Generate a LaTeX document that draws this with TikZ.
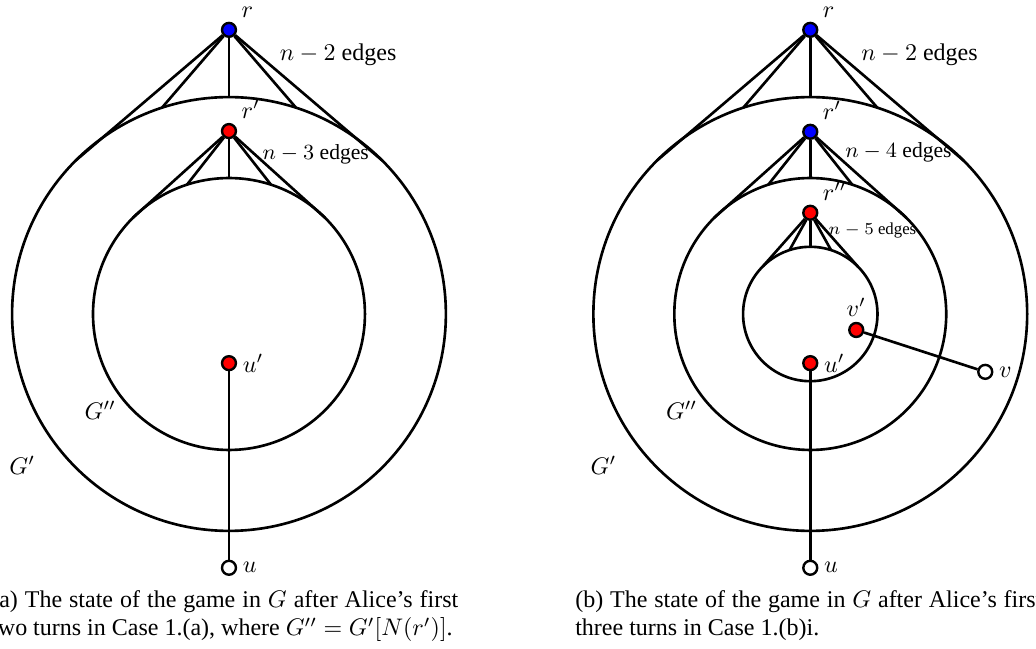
\documentclass[tikz,border=0pt]{standalone}
\usepackage{fontspec}
\setmainfont{Liberation Serif}
\usepackage{amsmath}

\tikzset{
  vtx/.style={circle, draw, line width=1pt, inner sep=0pt, minimum size=5.8pt},
  bluevtx/.style={vtx, fill=blue},
  redvtx/.style={vtx, fill=red},
  freevtx/.style={vtx, fill=white},
  region/.style={circle, draw, line width=1.1pt, inner sep=0pt, outer sep=0pt},
  caption/.style={text width=194.6pt, align=justify, inner sep=0pt, anchor=base west},
  every label/.style={label distance=-1.5pt},
}

\begin{document}
\begin{tikzpicture}[x=30.125pt, y=30.125pt, line width=1.1pt]
\useasboundingbox (-3.167,-4.633) rectangle (11.162,4.343);

% (a) after two turns
\node[region, minimum size=180.75pt] (Gp) at (0,0) {};
\node[region, minimum size=113.3pt] (Gpp) at (0,0) {};

\node[bluevtx, label={45:$r$}] (r) at (0,3.93) {};
\node[redvtx, label={45:$r'$}] (rp) at (0,2.53) {};
\node[redvtx, label={right:$u'$}] (up) at (0,-0.68) {};
\node[freevtx, label={right:$u$}] (u) at (0,-3.51) {};

% fans into the regions
\foreach \a in {45,72,90,108,135} \draw (r) -- (Gp.\a);
\foreach \a in {45,72,90,108,135} \draw (rp) -- (Gpp.\a);
\draw (up) -- (u);

\node (e2) at (1.51,3.58) {$n-2$ edges};
\node[font=\small] (e3) at (1.20,2.21) {$n-3$ edges};
\node (lGpp) at (-1.78,-1.33) {$G''$};
\node (lGp) at (-2.86,-2.09) {$G'$};

\node[caption] (capa) at (-3.306,-4.053) {(a) The state of the game in $G$ after Alice's first\linebreak two turns in Case 1.(a), where $G''=G'[N(r')]$.};

% (b) after three turns
\begin{scope}[shift={(8.04,0)}]
\node[region, minimum size=180.75pt] (Hp) at (0,0) {};
\node[region, minimum size=113.3pt] (Hpp) at (0,0) {};
\node[region, minimum size=56pt] (Hppp) at (0,0) {};

\node[bluevtx, label={45:$r$}] (r2) at (0,3.93) {};
\node[bluevtx, label={45:$r'$}] (rp2) at (0,2.52) {};
\node[redvtx, label={45:$r''$}] (rpp2) at (0,1.40) {};
\node[redvtx, label={above:$v'$}] (vp2) at (0.636,-0.221) {};
\node[freevtx, label={right:$v$}] (v2) at (2.42,-0.80) {};
\node[redvtx, label={right:$u'$}] (up2) at (0,-0.68) {};
\node[freevtx, label={right:$u$}] (u2) at (0,-3.51) {};

\foreach \a in {45,72,90,108,135} \draw (r2) -- (Hp.\a);
\foreach \a in {45,72,90,108,135} \draw (rp2) -- (Hpp.\a);
\foreach \a in {45,72,90,108,135} \draw (rpp2) -- (Hppp.\a);
\draw (up2) -- (u2);
\draw (vp2) -- (v2);

\node (f2) at (1.51,3.58) {$n-2$ edges};
\node[font=\small] (f4) at (1.22,2.23) {$n-4$ edges};
\node[font=\scriptsize] (f5) at (0.86,1.15) {$n-5$ edges};
\node (lHpp) at (-1.78,-1.33) {$G''$};
\node (lHp) at (-2.86,-2.09) {$G'$};
\end{scope}

\node[caption] (capb) at (4.772,-4.053) {(b) The state of the game in $G$ after Alice's first\linebreak three turns in Case 1.(b)i.};
\end{tikzpicture}
\end{document}
